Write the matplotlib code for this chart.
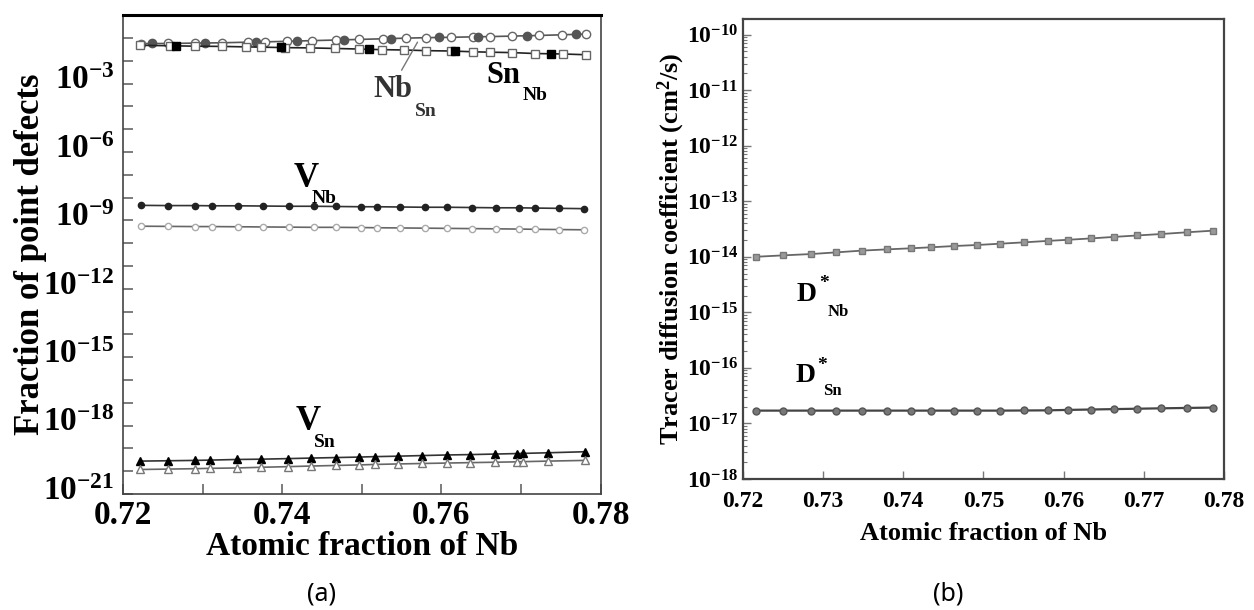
import numpy as np
import matplotlib
matplotlib.use("Agg")
import matplotlib.pyplot as plt
import matplotlib.transforms as mtransforms
from matplotlib.ticker import LogLocator, NullFormatter

plt.rcParams['font.family'] = ['Liberation Serif', 'DejaVu Serif']
plt.rcParams['font.weight'] = 'bold'
plt.rcParams['mathtext.fontset'] = 'custom'
plt.rcParams['mathtext.rm'] = 'Liberation Serif:bold'
plt.rcParams['mathtext.bf'] = 'Liberation Serif:bold'
plt.rcParams['mathtext.it'] = 'Liberation Serif:bold'

# ---- (a) point defect fractions vs. Nb content ----
x_circ = [0.7223, 0.7257, 0.7290, 0.7324, 0.7357, 0.7378, 0.7406, 0.7437, 0.7468, 0.7496,
          0.7527, 0.7555, 0.7581, 0.7612, 0.7640, 0.7661, 0.7689, 0.7723, 0.7751, 0.7782]
nb_sn = [0.057, 0.058, 0.060, 0.062, 0.066, 0.068, 0.072, 0.077, 0.082, 0.087,
         0.093, 0.099, 0.104, 0.108, 0.113, 0.116, 0.122, 0.130, 0.139, 0.150]
x_circ_f = [0.7236, 0.7303, 0.7367, 0.7419, 0.7478, 0.7537, 0.7597, 0.7646, 0.7707, 0.7769]
nb_sn_f = [0.058, 0.061, 0.067, 0.075, 0.084, 0.095, 0.106, 0.114, 0.126, 0.146]

x_sq = [0.7222, 0.7259, 0.7290, 0.7324, 0.7355, 0.7373, 0.7404, 0.7435, 0.7466, 0.7496,
        0.7525, 0.7553, 0.7581, 0.7612, 0.7640, 0.7661, 0.7689, 0.7717, 0.7753, 0.7782]
sn_nb = [0.048, 0.046, 0.044, 0.043, 0.041, 0.040, 0.038, 0.037, 0.035, 0.033,
         0.031, 0.030, 0.028, 0.027, 0.025, 0.024, 0.023, 0.021, 0.020, 0.0185]
x_sq_f = [0.7267, 0.7398, 0.7509, 0.7617, 0.7738]
sn_nb_f = [0.045, 0.039, 0.033, 0.027, 0.021]

x_v = [0.7223, 0.7257, 0.7290, 0.7312, 0.7345, 0.7376, 0.7409, 0.7440, 0.7468, 0.7499,
       0.7519, 0.7548, 0.7579, 0.7607, 0.7638, 0.7669, 0.7697, 0.7718, 0.7748, 0.7779]
v_nb = [4.6e-9, 4.5e-9, 4.5e-9, 4.4e-9, 4.4e-9, 4.3e-9, 4.2e-9, 4.2e-9, 4.1e-9, 4.0e-9,
        4.0e-9, 3.9e-9, 3.8e-9, 3.8e-9, 3.7e-9, 3.6e-9, 3.6e-9, 3.5e-9, 3.4e-9, 3.3e-9]
v_nb2 = [5.6e-10, 5.5e-10, 5.4e-10, 5.4e-10, 5.3e-10, 5.2e-10, 5.1e-10, 5.0e-10, 5.0e-10, 4.9e-10,
         4.8e-10, 4.7e-10, 4.6e-10, 4.5e-10, 4.4e-10, 4.3e-10, 4.2e-10, 4.1e-10, 4.0e-10, 3.9e-10]

x_tri = [0.7222, 0.7257, 0.7290, 0.7310, 0.7343, 0.7374, 0.7407, 0.7436, 0.7467, 0.7496,
         0.7517, 0.7545, 0.7576, 0.7607, 0.7636, 0.7667, 0.7695, 0.7703, 0.7734, 0.7780]
v_sn = [2.8e-20, 2.9e-20, 3.0e-20, 3.1e-20, 3.3e-20, 3.4e-20, 3.6e-20, 3.8e-20, 4.0e-20, 4.2e-20,
        4.4e-20, 4.6e-20, 4.9e-20, 5.2e-20, 5.4e-20, 5.7e-20, 6.0e-20, 6.1e-20, 6.5e-20, 7.2e-20]
v_sn2 = [1.2e-20, 1.25e-20, 1.3e-20, 1.35e-20, 1.4e-20, 1.5e-20, 1.6e-20, 1.7e-20, 1.8e-20, 1.9e-20,
         2.0e-20, 2.1e-20, 2.2e-20, 2.3e-20, 2.4e-20, 2.5e-20, 2.6e-20, 2.65e-20, 2.8e-20, 3.0e-20]

a_xticks = [0.72, 0.74, 0.76, 0.78]
a_xminor = [0.73, 0.75, 0.77]
a_ydecades = list(range(0, -22, -1))
a_ylabeled = [-3, -6, -9, -12, -15, -18, -21]

# ---- (b) tracer diffusion coefficients ----
x_d = [0.7216, 0.7250, 0.7285, 0.7316, 0.7348, 0.7380, 0.7409, 0.7434, 0.7463, 0.7492,
       0.7521, 0.7551, 0.7580, 0.7605, 0.7634, 0.7663, 0.7692, 0.7722, 0.7754, 0.7786]
d_nb = [1.00e-14, 1.06e-14, 1.12e-14, 1.20e-14, 1.29e-14, 1.36e-14, 1.42e-14, 1.48e-14, 1.56e-14, 1.63e-14,
        1.72e-14, 1.82e-14, 1.93e-14, 2.02e-14, 2.14e-14, 2.28e-14, 2.42e-14, 2.57e-14, 2.76e-14, 2.95e-14]
d_sn = [1.70e-17, 1.70e-17, 1.70e-17, 1.70e-17, 1.70e-17, 1.70e-17, 1.70e-17, 1.70e-17, 1.70e-17, 1.70e-17,
        1.70e-17, 1.71e-17, 1.72e-17, 1.75e-17, 1.78e-17, 1.81e-17, 1.84e-17, 1.87e-17, 1.90e-17, 1.93e-17]

b_xticks = [0.72, 0.73, 0.74, 0.75, 0.76, 0.77, 0.78]
b_ydecades = list(range(-18, -9))

line_c = '#555555'
spine_c = '#444444'


def species(ax, x, y, main, size, sub=None, sub_xy=None, sub_size=14, star_xy=None, color='black'):
    # species symbol with a dropped subscript (and optional asterisk), Times-style
    ax.text(x, y, main, fontsize=size, color=color, fontweight='bold', va='baseline')
    if sub is not None:
        ax.text(sub_xy[0], sub_xy[1], sub, fontsize=sub_size, color=color,
                fontweight='bold', va='baseline')
    if star_xy is not None:
        ax.text(star_xy[0], star_xy[1], '*', fontsize=sub_size + 2, color=color,
                fontweight='bold', va='baseline')


fig = plt.figure(figsize=(12.54, 6.10), dpi=100)

# panel (a)
ax = fig.add_axes([0.098, 0.190, 0.381, 0.785])
ax.set_yscale('log')
ax.plot(x_circ, nb_sn, '-', color=line_c, lw=1.2, marker='o', ms=6, mfc='white', mec='#666666', mew=1.0)
ax.plot(x_circ_f, nb_sn_f, 'o', ms=6, color='#555555')
ax.plot(x_sq, sn_nb, '-', color='#222222', lw=1.2, marker='s', ms=5.5, mfc='white', mec='#666666', mew=1.0)
ax.plot(x_sq_f, sn_nb_f, 's', ms=6, color='black')
ax.plot(x_v, v_nb, '-', color='#333333', lw=1.2, marker='o', ms=4.5, mfc='#222222', mec='#222222')
ax.plot(x_v, v_nb2, '-', color='#666666', lw=1.2, marker='o', ms=4.5, mfc='white', mec='#aaaaaa')
ax.plot(x_tri, v_sn, '-', color='#333333', lw=1.2, marker='^', ms=6, mfc='black', mec='black')
ax.plot(x_tri, v_sn2, '-', color='#666666', lw=1.2, marker='^', ms=6, mfc='white', mec='#777777')

ax.set_xlim(0.72, 0.78)
ax.set_ylim(1e-21, 1)
ax.set_xticks(a_xticks)
ax.set_xticks(a_xminor, minor=True)
ax.set_xticklabels(['%.2f' % v for v in a_xticks])
ax.set_yticks([10.0 ** d for d in a_ydecades])
ax.set_yticklabels([r'$\mathbf{10^{%d}}$' % d if d in a_ylabeled else '' for d in a_ydecades])
ax.yaxis.set_minor_locator(plt.NullLocator())
ax.tick_params(axis='both', which='both', direction='in', length=7, width=1.2, color='#666666',
               labelsize=24, right=False, top=False)
ax.tick_params(axis='x', pad=4)
ax.tick_params(axis='y', pad=6)
# exponent labels sit a little above their ticks
lift = mtransforms.ScaledTranslation(0, 4.5 / 72, fig.dpi_scale_trans)
for lab in ax.get_yticklabels():
    lab.set_transform(lab.get_transform() + lift)
for s in ax.spines.values():
    s.set_color(spine_c)
    s.set_linewidth(1.2)
ax.spines['top'].set_color('black')
ax.spines['top'].set_linewidth(2.2)
for lab in ax.get_xticklabels():
    lab.set_fontweight('bold')
ax.set_xlabel('Atomic fraction of Nb', fontsize=24, fontweight='bold', labelpad=0)
ax.set_ylabel('Fraction of point defects', fontsize=25, fontweight='bold', labelpad=-3)

ax.annotate('', xy=(0.7570, 10 ** -1.18), xytext=(0.7550, 10 ** -2.41),
            arrowprops=dict(arrowstyle='-', color='#777777', lw=1.0, shrinkA=0, shrinkB=0))
species(ax, 0.7514, 10 ** -3.6, 'Nb', 22, 'Sn', (0.7567, 10 ** -4.43), 14, color='#333333')
species(ax, 0.7656, 10 ** -2.98, 'Sn', 22, 'Nb', (0.7702, 10 ** -3.73), 14)
species(ax, 0.7415, 10 ** -7.54, 'V', 25, 'Nb', (0.7437, 10 ** -8.25), 14)
species(ax, 0.7417, 10 ** -18.2, 'V', 25, 'Sn', (0.7440, 10 ** -18.95), 14)

# panel (b)
bx = fig.add_axes([0.5925, 0.2148, 0.3835, 0.754])
bx.set_yscale('log')
bx.plot(x_d, d_nb, '-', color='#666666', lw=1.3, marker='s', ms=5, mfc='#999999', mec='#777777')
bx.plot(x_d, d_sn, '-', color='#444444', lw=1.6, marker='o', ms=5, mfc='#777777', mec='#555555')
bx.set_xlim(0.72, 0.78)
bx.set_ylim(1e-18, 10 ** -9.72)
bx.set_xticks(b_xticks)
bx.set_xticklabels(['%.2f' % v for v in b_xticks])
bx.set_yticks([10.0 ** d for d in b_ydecades])
bx.set_yticklabels([r'$\mathbf{10^{%d}}$' % d for d in b_ydecades])
bx.yaxis.set_minor_locator(LogLocator(base=10, subs=np.arange(2, 10)))
bx.yaxis.set_minor_formatter(NullFormatter())
bx.tick_params(axis='both', which='major', direction='in', length=6, width=1.0, color='#777777',
               labelsize=17, right=False, top=False)
bx.tick_params(axis='x', pad=9)
bx.tick_params(axis='y', which='minor', direction='in', length=3, width=0.8, color='#777777', right=False)
for s in bx.spines.values():
    s.set_color(spine_c)
    s.set_linewidth(1.6)
for lab in bx.get_xticklabels():
    lab.set_fontweight('bold')
bx.set_xlabel('Atomic fraction of Nb', fontsize=19, fontweight='bold', labelpad=7)
bx.set_ylabel(r'Tracer diffusion coefficient (cm$^{\mathbf{2}}$/s)', fontsize=19, fontweight='bold', labelpad=0)
species(bx, 0.7267, 10 ** -14.79, 'D', 20, 'Nb', (0.7306, 10 ** -15.06), 12, star_xy=(0.7295, 10 ** -14.56))
species(bx, 0.7265, 10 ** -16.26, 'D', 20, 'Sn', (0.7300, 10 ** -16.49), 12, star_xy=(0.7293, 10 ** -16.03))

fig.text(0.256, 0.015, '(a)', fontsize=18, family='Noto Sans', fontweight='normal', ha='center')
fig.text(0.756, 0.015, '(b)', fontsize=18, family='Noto Sans', fontweight='normal', ha='center')

fig.savefig('out.png', dpi=100)
